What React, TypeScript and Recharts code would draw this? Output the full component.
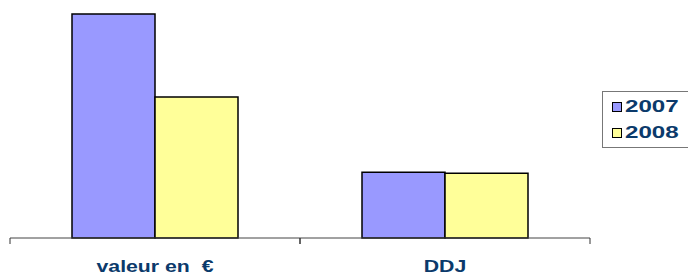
import React from "react";
import { BarChart, Bar, XAxis, YAxis, Legend } from "recharts";

const categories = ["valeur en  €", "DDJ"];
const values2007 = [100, 29.3];
const values2008 = [62.9, 28.9];
const seriesNames = ["2007", "2008"];

const data = categories.map((c, i) => ({
  name: c,
  [seriesNames[0]]: values2007[i],
  [seriesNames[1]]: values2008[i],
}));

const TEXT = "#0B3A6B";
const FONT = "'Liberation Sans', Arial, sans-serif";

const CustomTick = (props: any) => {
  const { x, y, payload } = props;
  const half = 145;
  return (
    <g>
      <line x1={x - half} x2={x - half} y1={y - 8} y2={y - 2} stroke="#333" strokeWidth={1} />
      <line x1={x + half} x2={x + half} y1={y - 8} y2={y - 2} stroke="#333" strokeWidth={1} />
      <text
        x={0}
        y={0}
        transform={`translate(${x}, ${y + 25.5}) scale(1.33, 1)`}
        textAnchor="middle"
        fill={TEXT}
        fontFamily={FONT}
        fontWeight="bold"
        fontSize={16}
        style={{ whiteSpace: "pre" }}
      >
        {payload.value}
      </text>
    </g>
  );
};

const LegendContent = (props: any) => {
  const { payload } = props;
  return (
    <div
      style={{
        border: "1px solid #777",
        borderRight: "none",
        width: 86,
        height: 57,
        boxSizing: "border-box",
        paddingTop: 4,
        paddingLeft: 9,
      }}
    >
      {payload.map((p: any) => (
        <div
          key={p.value}
          style={{ display: "flex", alignItems: "center", height: 22, marginBottom: 4 }}
        >
          <span
            style={{
              display: "inline-block",
              width: 8,
              height: 8,
              background: p.color,
              border: "1px solid #000",
              marginRight: 3,
              flex: "none",
            }}
          />
          <span
            style={{
              fontFamily: FONT,
              fontWeight: "bold",
              fontSize: 17,
              color: TEXT,
              display: "inline-block",
              transform: "scaleX(1.42)",
              transformOrigin: "left center",
              whiteSpace: "nowrap",
            }}
          >
            {p.value}
          </span>
        </div>
      ))}
    </div>
  );
};

export default function App() {
  return (
    <div style={{ position: "absolute", left: 0, top: 0, width: 688, height: 275, background: "#fff" }}>
      <BarChart
        width={688}
        height={275}
        data={data}
        margin={{ top: 14, right: 12, bottom: 0, left: 10 }}
        barCategoryGap={62}
        barGap={0}
      >
        <XAxis
          dataKey="name"
          height={37}
          tickLine={false}
          axisLine={{ stroke: "#444", strokeWidth: 1 }}
          tick={<CustomTick />}
          interval={0}
        />
        <YAxis hide domain={[0, 100]} />
        <Legend
          layout="vertical"
          align="right"
          verticalAlign="middle"
          content={<LegendContent />}
          wrapperStyle={{ position: "absolute", left: 602, top: 91, width: 86 }}
        />
        <Bar dataKey="2007" fill="#9999FF" stroke="#000" strokeWidth={1.5} isAnimationActive={false} />
        <Bar dataKey="2008" fill="#FFFF99" stroke="#000" strokeWidth={1.5} isAnimationActive={false} />
      </BarChart>
    </div>
  );
}
